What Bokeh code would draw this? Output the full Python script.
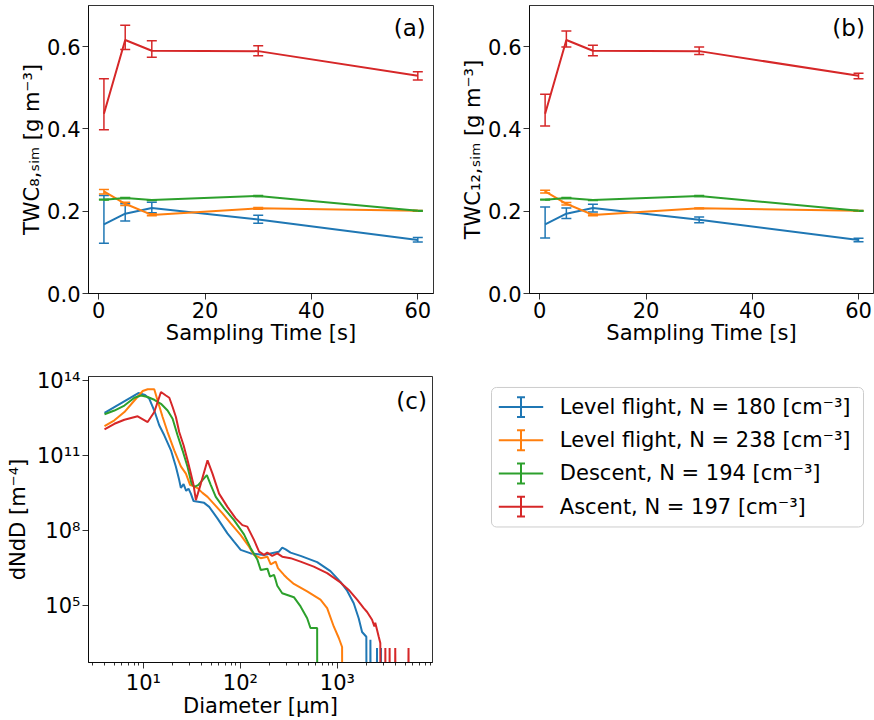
import numpy as np
from bokeh.plotting import figure
from bokeh.models import (Range1d, FixedTicker, Whisker, TeeHead, ColumnDataSource, Label,
                          CustomJSTickFormatter, PrintfTickFormatter)
from bokeh.layouts import row, column
from bokeh.embed import file_html
from bokeh.resources import INLINE
from bokeh.core.properties import value

FONT = "DejaVu Sans"
COLORS = ["#1f77b4", "#ff7f0e", "#2ca02c", "#d62728"]

# ---------------- data ----------------
series_labels = ["Level flight, N = 180 [cm⁻³]", "Level flight, N = 238 [cm⁻³]",
                 "Descent, N = 194 [cm⁻³]", "Ascent, N = 197 [cm⁻³]"]
sampling_time = [1, 5, 10, 30, 60]

# panel (a): TWC_8,sim  (mean, lower, upper)
twc8_level180 = [0.168, 0.194, 0.208, 0.180, 0.130]
twc8_level180_lo = [0.122, 0.176, 0.196, 0.171, 0.125]
twc8_level180_hi = [0.238, 0.218, 0.222, 0.190, 0.136]
twc8_level238 = [0.248, 0.218, 0.191, 0.207, 0.201]
twc8_level238_lo = [0.242, 0.214, 0.189, 0.205, 0.200]
twc8_level238_hi = [0.253, 0.222, 0.194, 0.209, 0.202]
twc8_descent = [0.228, 0.232, 0.227, 0.237, 0.201]
twc8_descent_lo = [0.227, 0.231, 0.226, 0.236, 0.200]
twc8_descent_hi = [0.229, 0.233, 0.228, 0.238, 0.202]
twc8_ascent = [0.437, 0.616, 0.590, 0.589, 0.529]
twc8_ascent_lo = [0.398, 0.593, 0.574, 0.578, 0.519]
twc8_ascent_hi = [0.522, 0.652, 0.614, 0.602, 0.539]

# panel (b): TWC_12,sim
twc12_level180 = [0.168, 0.194, 0.208, 0.179, 0.130]
twc12_level180_lo = [0.135, 0.182, 0.198, 0.172, 0.126]
twc12_level180_hi = [0.210, 0.208, 0.217, 0.186, 0.134]
twc12_level238 = [0.248, 0.218, 0.191, 0.207, 0.201]
twc12_level238_lo = [0.244, 0.215, 0.189, 0.206, 0.200]
twc12_level238_hi = [0.251, 0.221, 0.193, 0.208, 0.202]
twc12_descent = [0.228, 0.232, 0.227, 0.237, 0.201]
twc12_descent_lo = [0.227, 0.231, 0.226, 0.236, 0.200]
twc12_descent_hi = [0.229, 0.233, 0.228, 0.238, 0.202]
twc12_ascent = [0.437, 0.616, 0.590, 0.589, 0.529]
twc12_ascent_lo = [0.407, 0.599, 0.578, 0.581, 0.522]
twc12_ascent_hi = [0.484, 0.638, 0.603, 0.599, 0.535]

# panel (c): size distributions, log10(Diameter [um]) and log10(dNdD [m^-4]); None = empty bin
psd_level180_logd = [0.599, 0.948, 1.017, 1.061, 1.112, 1.163, 1.215, 1.284, 1.335, 1.369, 1.386,
                     1.414, 1.441, 1.465, 1.489, 1.517, 1.626, 1.678, 1.763, 1.866, 1.934, 2.003,
                     2.106, 2.243, 2.346, 2.397, 2.431, 2.466, 2.517, 2.620, 2.791, 2.928, 3.031,
                     3.100, 3.168, 3.219, 3.254, 3.298, 3.319, 3.340, 3.378, 3.408, 3.430, 3.449, 3.470]
psd_level180_logn = [12.71, 13.50, 13.42, 13.27, 12.80, 12.21, 11.81, 11.21, 10.55, 10.02, 9.71,
                     9.86, 9.59, 9.68, 9.48, 9.18, 9.11, 8.95, 8.49, 7.89, 7.56, 7.23,
                     7.09, 7.03, 7.12, 7.16, 7.32, 7.25, 7.12, 6.99, 6.74, 6.38, 5.95,
                     5.60, 5.10, 4.50, 3.95, 3.76, None, 3.64, None, 3.31, None, 3.31, None]

psd_level238_logd = [0.599, 0.701, 0.804, 0.907, 0.993, 1.044, 1.112, 1.146, 1.198, 1.249, 1.318,
                     1.386, 1.438, 1.482, 1.517, 1.558, 1.609, 1.661, 1.729, 1.815, 1.900, 2.003,
                     2.089, 2.140, 2.209, 2.278, 2.312, 2.363, 2.387, 2.449, 2.483, 2.551, 2.688,
                     2.825, 2.894, 2.962, 3.014, 3.048, 3.065]
psd_level238_logn = [12.18, 12.41, 12.74, 13.20, 13.58, 13.65, 13.65, 13.20, 12.54, 11.94, 11.21,
                     10.57, 10.28, 9.82, 9.78, 9.70, 9.51, 9.35, 9.06, 8.69, 8.29, 7.82,
                     7.36, 7.03, 6.90, 6.96, 6.65, 6.76, 6.50, 6.23, 6.10, 5.87, 5.57,
                     5.24, 4.90, 4.17, 3.71, 3.35, None]

psd_descent_logd = [0.599, 0.701, 0.804, 0.907, 0.976, 1.044, 1.112, 1.181, 1.249, 1.301, 1.352,
                    1.403, 1.455, 1.496, 1.524, 1.564, 1.609, 1.654, 1.695, 1.746, 1.832, 1.934,
                    2.037, 2.106, 2.174, 2.209, 2.278, 2.305, 2.346, 2.363, 2.380, 2.431, 2.551,
                    2.620, 2.688, 2.722, 2.791, 2.800]
psd_descent_logn = [12.65, 12.80, 13.00, 13.31, 13.40, 13.34, 13.23, 13.07, 12.80, 12.47, 11.81,
                    11.21, 10.55, 9.88, 9.75, 9.82, 10.02, 10.22, 9.82, 9.35, 8.89, 8.42,
                    7.85, 7.30, 6.85, 6.43, 6.48, 6.16, 6.23, 6.03, 5.80, 5.50, 5.34,
                    4.97, 4.50, 4.11, 4.11, None]

psd_ascent_logd = [0.599, 0.701, 0.804, 0.941, 1.044, 1.112, 1.181, 1.232, 1.267, 1.301, 1.335,
                   1.369, 1.414, 1.455, 1.489, 1.517, 1.541, 1.592, 1.661, 1.712, 1.780, 1.866,
                   1.951, 2.020, 2.071, 2.140, 2.192, 2.243, 2.277, 2.328, 2.380, 2.431, 2.517,
                   2.620, 2.756, 2.894, 3.031, 3.117, 3.203, 3.271, 3.306, 3.357, 3.381, 3.390,
                   3.408, 3.425, 3.442, 3.468, 3.494, 3.516, 3.538, 3.567, 3.596, 3.660, 3.733, 3.760]
psd_ascent_logn = [12.05, 12.27, 12.43, 12.57, 12.34, 12.74, 13.54, 13.40, 13.31, 12.94, 12.54,
                   11.94, 11.41, 10.81, 10.28, 9.82, 9.22, 9.88, 10.81, 10.28, 9.48, 8.95,
                   8.49, 8.22, 8.16, 7.63, 7.16, 7.03, 7.12, 6.99, 7.09, 6.96, 6.90,
                   6.76, 6.56, 6.30, 5.93, 5.63, 5.24, 4.90, 4.75, 4.44, 4.17, 4.32,
                   4.04, 3.77, 3.51, None, 3.31, None, 3.31, None, 3.31, None, 3.31, None]

# ---------------- styling helpers ----------------
def style_axes(p, tick_standoff=2, label_standoff=0):
    p.grid.visible = False
    p.outline_line_color = "black"
    p.outline_line_alpha = 0.8
    p.background_fill_color = "white"
    p.border_fill_color = "white"
    for ax in p.axis:
        ax.axis_line_color = "black"
        ax.axis_line_alpha = 0.8
        ax.major_tick_line_color = "black"
        ax.major_tick_line_alpha = 0.8
        ax.major_tick_out = 6
        ax.major_tick_in = 0
        ax.minor_tick_line_color = None
        ax.major_label_text_font = FONT
        ax.major_label_text_font_size = "21px"
        ax.major_label_text_color = "black"
        ax.major_label_standoff = tick_standoff
        ax.axis_label_text_font = FONT
        ax.axis_label_text_font_size = "21px"
        ax.axis_label_text_font_style = "normal"
        ax.axis_label_text_color = "black"
        ax.axis_label_standoff = label_standoff


H1 = 360
H2 = 360
C_TOP, C_BOTTOM = 16, 57          # panel (c) borders; the legend panel shares this frame
C_FRAME_H = H2 - C_TOP - C_BOTTOM


def twc_panel(width, left, right, xr, series, ylabel, tag, tag_x):
    p = figure(width=width, height=H1, output_backend="svg", toolbar_location=None,
               x_range=Range1d(*xr), y_range=Range1d(0.0, 0.6999),
               min_border_left=left, min_border_right=right, min_border_top=5,
               min_border_bottom=H1 - 5 - 288)
    for (mean, lo, hi), c in zip(series, COLORS):
        src = ColumnDataSource(dict(x=sampling_time, y=mean, lower=lo, upper=hi))
        p.line("x", "y", source=src, line_color=c, line_width=2)
        p.add_layout(Whisker(base="x", lower="lower", upper="upper", source=src,
                             line_color=c, line_width=1.5,
                             upper_head=TeeHead(size=10, line_color=c, line_width=1.5),
                             lower_head=TeeHead(size=10, line_color=c, line_width=1.5)))
    style_axes(p, tick_standoff=2, label_standoff=0)
    p.xaxis.ticker = FixedTicker(ticks=[0, 20, 40, 60])
    p.yaxis.ticker = FixedTicker(ticks=[0.0, 0.2, 0.4, 0.6])
    p.yaxis.formatter = PrintfTickFormatter(format="%.1f")
    p.xaxis.axis_label = "Sampling Time [s]"
    p.yaxis.axis_label = ylabel
    p.add_layout(Label(x=tag_x, y=0.678, text=tag, text_align="right", text_baseline="top",
                       text_font=FONT, text_font_size="23px", text_color="black"))
    return p


pa = twc_panel(440, 88, 7, (-1.9, 62.95),
               [(twc8_level180, twc8_level180_lo, twc8_level180_hi),
                (twc8_level238, twc8_level238_lo, twc8_level238_hi),
                (twc8_descent, twc8_descent_lo, twc8_descent_hi),
                (twc8_ascent, twc8_ascent_lo, twc8_ascent_hi)],
               "TWC₈,ₛᵢₘ [g m⁻³]", "(a)", 61.5)
pb = twc_panel(434, 89, 1, (-1.94, 62.82),
               [(twc12_level180, twc12_level180_lo, twc12_level180_hi),
                (twc12_level238, twc12_level238_lo, twc12_level238_hi),
                (twc12_descent, twc12_descent_lo, twc12_descent_hi),
                (twc12_ascent, twc12_ascent_lo, twc12_ascent_hi)],
               "TWC₁₂,ₛᵢₘ [g m⁻³]", "(b)", 61.2)

# ---------------- panel (c) ----------------
pc = figure(width=440, height=H2, output_backend="svg", toolbar_location=None,
            x_axis_type="log", y_axis_type="log",
            x_range=Range1d(10 ** 0.434, 10 ** 3.98), y_range=Range1d(10 ** 2.73, 10 ** 14.16),
            min_border_left=88, min_border_right=8, min_border_top=C_TOP, min_border_bottom=C_BOTTOM)
psd = [(psd_level180_logd, psd_level180_logn), (psd_level238_logd, psd_level238_logn),
       (psd_descent_logd, psd_descent_logn), (psd_ascent_logd, psd_ascent_logn)]
for (ld, ln), c in zip(psd, COLORS):
    d = 10.0 ** np.array(ld)
    n = np.array([10.0 ** v if v is not None else 1e-30 for v in ln])  # empty bins fall below the axis
    pc.line(d, n, line_color=c, line_width=2)
style_axes(pc, tick_standoff=2, label_standoff=-4)
pc.yaxis.axis_label_standoff = 4
pc.xaxis.ticker = FixedTicker(ticks=[10, 100, 1000],
                              minor_ticks=[m * 10 ** k for k in range(0, 4) for m in range(2, 10)])
pc.xaxis.minor_tick_line_color = "black"
pc.xaxis.minor_tick_line_alpha = 0.8
pc.xaxis.minor_tick_out = 3
pc.xaxis.minor_tick_in = 0
pc.yaxis.ticker = FixedTicker(ticks=[1e5, 1e8, 1e11, 1e14])
sup_fmt = CustomJSTickFormatter(code="""
const sup = {'0':'\u2070','1':'\u00b9','2':'\u00b2','3':'\u00b3','4':'\u2074','5':'\u2075',
             '6':'\u2076','7':'\u2077','8':'\u2078','9':'\u2079','-':'\u207b'};
const e = Math.round(Math.log10(tick));
return '10' + String(e).split('').map(c => sup[c]).join('');
""")
pc.xaxis.formatter = sup_fmt
pc.yaxis.formatter = sup_fmt
pc.xaxis.axis_label = "Diameter [µm]"
pc.yaxis.axis_label = "dNdD [m⁻⁴]"
pc.add_layout(Label(x=10 ** 3.922, y=10 ** 13.69, text="(c)", text_align="right", text_baseline="top",
                    text_font=FONT, text_font_size="23px", text_color="black"))

# ---------------- legend panel (frame aligned with panel (c); units = pixels from frame top-left) ----
pl = figure(width=434, height=H2, output_backend="svg", toolbar_location=None,
            x_range=Range1d(0, 434), y_range=Range1d(C_FRAME_H, 0),
            min_border_left=0, min_border_right=0, min_border_top=C_TOP, min_border_bottom=C_BOTTOM)
pl.axis.visible = False
pl.grid.visible = False
pl.outline_line_color = None
pl.quad(left=51, right=423, top=11, bottom=151, fill_color="white", line_color="#cccccc",
        line_width=1, border_radius=5)
row_y = [30.7 + i * 33.3 for i in range(len(series_labels))]
for yy, c in zip(row_y, COLORS):
    pl.segment(x0=[58.3, 80.5, 76.5, 76.5], y0=[yy, yy - 10, yy - 10, yy + 10],
               x1=[102.7, 80.5, 84.5, 84.5], y1=[yy, yy + 10, yy - 10, yy + 10],
               line_color=c, line_width=2)
pl.text(x=[119.3] * len(series_labels), y=row_y, text=series_labels,
        text_font=value(FONT), text_font_size="21px", text_baseline="middle",
        text_align="left", text_color="black")

layout = column(row(pa, pb), row(pc, pl))
open("out.html", "w").write(file_html(layout, INLINE))
